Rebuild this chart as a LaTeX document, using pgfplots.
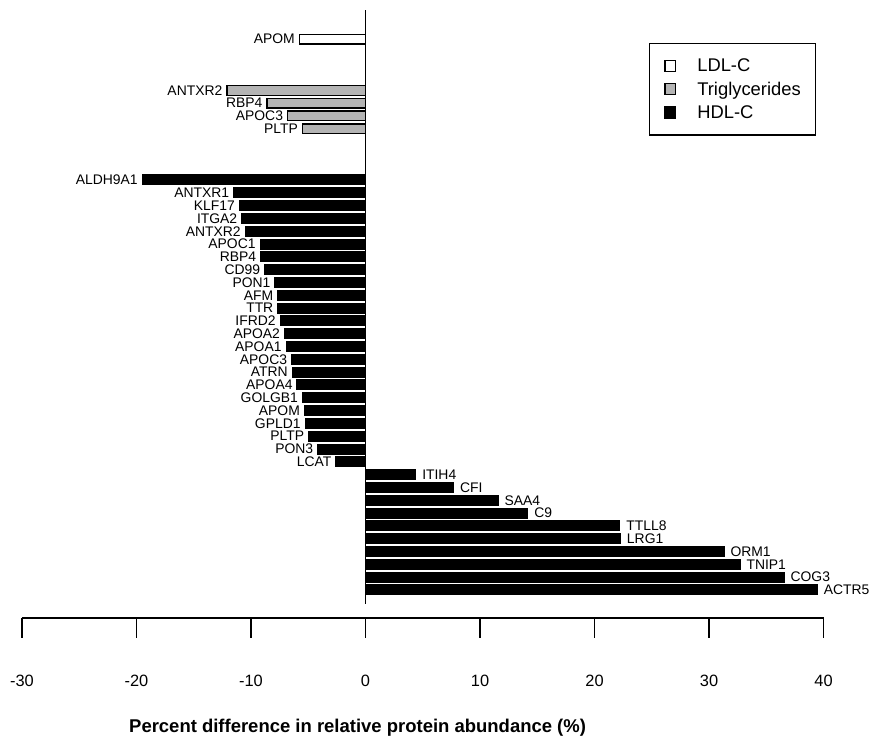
\documentclass[border=0pt]{standalone}
\usepackage{pgfplots}
\pgfplotsset{compat=1.18}
\usepackage{pgfplotstable}
\usepackage{fontspec}
\setmainfont{Liberation Sans}
\definecolor{tggray}{RGB}{180,180,180}

\pgfplotstableread{
val pos label
-5.77 43 APOM
}\ldl
\pgfplotstableread{
val pos label
-5.5 36 PLTP
-6.8 37 APOC3
-8.6 38 RBP4
-12.1 39 ANTXR2
}\tg
\pgfplotstableread{
val pos label
-2.58 10 LCAT
-4.17 11 PON3
-4.96 12 PLTP
-5.27 13 GPLD1
-5.33 14 APOM
-5.5 15 GOLGB1
-5.97 16 APOA4
-6.4 17 ATRN
-6.45 18 APOC3
-6.93 19 APOA1
-7.07 20 APOA2
-7.45 21 IFRD2
-7.65 22 TTR
-7.65 23 AFM
-7.9 24 PON1
-8.8 25 CD99
-9.15 26 RBP4
-9.2 27 APOC1
-10.5 28 ANTXR2
-10.8 29 ITGA2
-11.0 30 KLF17
-11.5 31 ANTXR1
-19.5 32 ALDH9A1
}\hdlneg
\pgfplotstableread{
val pos label
39.45 0 ACTR5
36.55 1 COG3
32.7 2 TNIP1
31.3 3 ORM1
22.26 4 LRG1
22.2 5 TTLL8
14.17 6 C9
11.57 7 SAA4
7.68 8 CFI
4.38 9 ITIH4
}\hdlpos

\begin{document}
\begin{tikzpicture}
\begin{axis}[
  x=11.53pt, y=12.9pt,
  xmin=-30, xmax=40, ymin=-2.17, ymax=45.27,
  axis x line=bottom, axis y line=none,
  axis line style={line width=1.6pt, -},
  xtick={-30,-20,-10,0,10,20,30,40},
  xticklabels={-30,-20,-10,0,10,20,30,40},
  xtick align=outside,
  major tick length=20pt,
  tick style={line width=1.6pt, black},
  xticklabel style={font=\fontsize{16.5}{18}\selectfont, anchor=north, inner sep=0pt, yshift=-38pt},
  ytick=\empty,
  clip=false,
  xbar, bar width=9.8pt, bar shift=0pt,
  xlabel={\bfseries Percent difference in relative protein abundance (\%)},
  xlabel style={font=\fontsize{18.6}{22}\selectfont, at={(axis description cs:0.4187,-0.1815)}, anchor=center},
  legend style={
    at={(axis description cs:0.9911,0.946)}, anchor=north east,
    draw=black, line width=1.5pt,
    inner xsep=15pt, inner ysep=13.4pt,
    font=\fontsize{18.5}{22}\selectfont,
    row sep=5.3pt,
    nodes={inner sep=0pt, text height=15.2pt, text depth=3pt},
    /tikz/every odd column/.append style={column sep=21pt},
  },
  legend cell align=left,
  legend image code/.code={\draw[#1, line width=1.3pt] (0pt,-5.5pt) rectangle (11pt,5.5pt);},
]
\addplot[fill=white, draw=black, line width=1.3pt, bar shift=0pt,
  nodes near coords, point meta=explicit symbolic,
  every node near coord/.append style={anchor=east, xshift=-4pt, inner sep=0pt, font=\fontsize{14}{16}\selectfont, text=black}]
  table[x=val, y=pos, meta=label] {\ldl};
\addlegendentry{LDL-C}
\addplot[fill=tggray, draw=black, line width=1.3pt, bar shift=0pt,
  nodes near coords, point meta=explicit symbolic,
  every node near coord/.append style={anchor=east, xshift=-4pt, inner sep=0pt, font=\fontsize{14}{16}\selectfont, text=black}]
  table[x=val, y=pos, meta=label] {\tg};
\addlegendentry{Triglycerides}
\addplot[fill=black, draw=black, line width=1.3pt, bar shift=0pt,
  nodes near coords, point meta=explicit symbolic,
  every node near coord/.append style={anchor=east, xshift=-4pt, inner sep=0pt, font=\fontsize{14}{16}\selectfont, text=black}]
  table[x=val, y=pos, meta=label] {\hdlneg};
\addlegendentry{HDL-C}
\addplot[fill=black, draw=black, line width=1.3pt, bar shift=0pt, forget plot,
  nodes near coords, point meta=explicit symbolic,
  every node near coord/.append style={anchor=west, xshift=6pt, inner sep=0pt, font=\fontsize{14}{16}\selectfont, text=black}]
  table[x=val, y=pos, meta=label] {\hdlpos};
\draw[line width=1.6pt] (axis cs:0,-1.085) -- (axis cs:0,45.27);
\coordinate (bl) at (axis cs:-31.92,-11.47);
\coordinate (tr) at (axis cs:44.06,46.05);
\end{axis}
\pgfresetboundingbox
\useasboundingbox (bl) rectangle (tr);
\end{tikzpicture}
\end{document}
